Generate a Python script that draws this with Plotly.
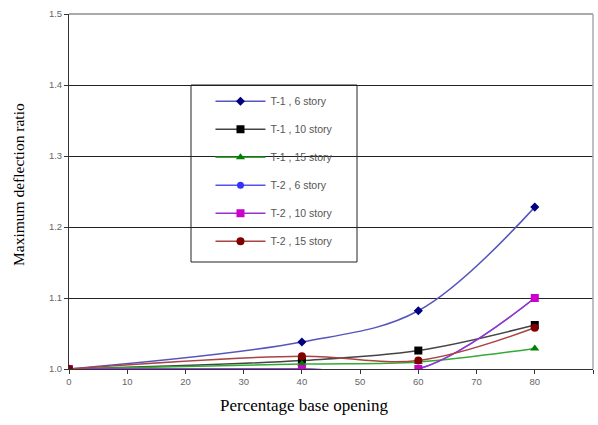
import plotly.graph_objects as go

x_vals = [0, 40, 60, 80]
t1_6 = [1.0, 1.038, 1.082, 1.228]
t1_10 = [1.0, 1.012, 1.026, 1.062]
t1_15 = [1.0, 1.007, 1.010, 1.029]
t2_6 = [1.0, 1.0, 1.0, 1.100]
t2_10 = [1.0, 1.0, 1.0, 1.100]
t2_15 = [1.0, 1.018, 1.012, 1.058]

names = ["T-1 , 6 story", "T-1 , 10 story", "T-1 , 15 story",
         "T-2 , 6 story", "T-2 , 10 story", "T-2 , 15 story"]
series = [t1_6, t1_10, t1_15, t2_6, t2_10, t2_15]
line_colors = ["#5555bb", "#444444", "#33aa33", "#5555ee", "#9933cc", "#aa4444"]
marker_colors = ["#000080", "#000000", "#008000", "#3333ff", "#cc00cc", "#800000"]
symbols = ["diamond", "square", "triangle-up", "circle", "square", "circle"]
sizes = [7, 8, 8, 7, 8, 8]

x_ticks = [0, 10, 20, 30, 40, 50, 60, 70, 80, 90]
y_ticks = [1.0, 1.1, 1.2, 1.3, 1.4, 1.5]

fig = go.Figure()
for i, (nm, ys) in enumerate(zip(names, series)):
    fig.add_trace(go.Scatter(
        x=x_vals, y=ys, name=nm, mode="lines+markers",
        line=dict(color=line_colors[i], width=1.5, shape="spline", smoothing=1),
        marker=dict(symbol=symbols[i], size=sizes[i], color=marker_colors[i]),
        legendgroup=str(i),
    ))

fig.update_layout(
    width=598, height=425,
    margin=dict(l=69, r=5, t=14, b=56),
    paper_bgcolor="white", plot_bgcolor="white",
    showlegend=True,
    legend=dict(
        x=0.27, y=0.795, xanchor="left", yanchor="top",
        bgcolor="rgba(0,0,0,0)", borderwidth=0,
        font=dict(family="Arial, Liberation Sans", size=10.5, color="#555555"),
        tracegroupgap=9, itemwidth=50,
    ),
    xaxis=dict(
        range=[0, 90], tickvals=x_ticks, showgrid=False, zeroline=False,
        showline=True, linecolor="#333333", linewidth=1,
        ticks="outside", ticklen=4, tickcolor="#333333",
        tickfont=dict(family="Arial, Liberation Sans", size=9.5, color="#666666"),
    ),
    yaxis=dict(
        range=[1.0, 1.5], tickvals=y_ticks, ticktext=["1.0", "1.1", "1.2", "1.3", "1.4", "1.5"],
        showgrid=True, gridcolor="#222222", gridwidth=1, zeroline=False,
        showline=True, linecolor="#333333", linewidth=1,
        ticks="outside", ticklen=4, tickcolor="#333333",
        tickfont=dict(family="Arial, Liberation Sans", size=9.5, color="#666666"),
    ),
    annotations=[
        dict(text="Percentage base opening", xref="paper", yref="paper",
             x=(304-69)/524, y=-(405-369)/355, xanchor="center", yanchor="middle",
             showarrow=False,
             font=dict(family="Liberation Serif, Times New Roman", size=17, color="black")),
        dict(text="Maximum deflection ratio", xref="paper", yref="paper",
             x=-(69-18)/524, y=(369-185)/355, xanchor="center", yanchor="middle",
             textangle=-90, showarrow=False,
             font=dict(family="Liberation Serif, Times New Roman", size=15.5, color="black")),
    ],
    shapes=[
        dict(type="rect", xref="paper", yref="paper",
             x0=(191-69)/524, x1=(357-69)/524, y0=(369-262)/355, y1=(369-85)/355,
             line=dict(color="#222222", width=1), fillcolor="white", layer="below"),
        dict(type="line", xref="paper", yref="paper", x0=0, x1=1, y0=1, y1=1,
             line=dict(color="#aaaaaa", width=2), layer="above"),
        dict(type="line", xref="paper", yref="paper", x0=1, x1=1, y0=0, y1=1,
             line=dict(color="#aaaaaa", width=1.5), layer="above"),
    ],
)

fig.write_html("out.html")
